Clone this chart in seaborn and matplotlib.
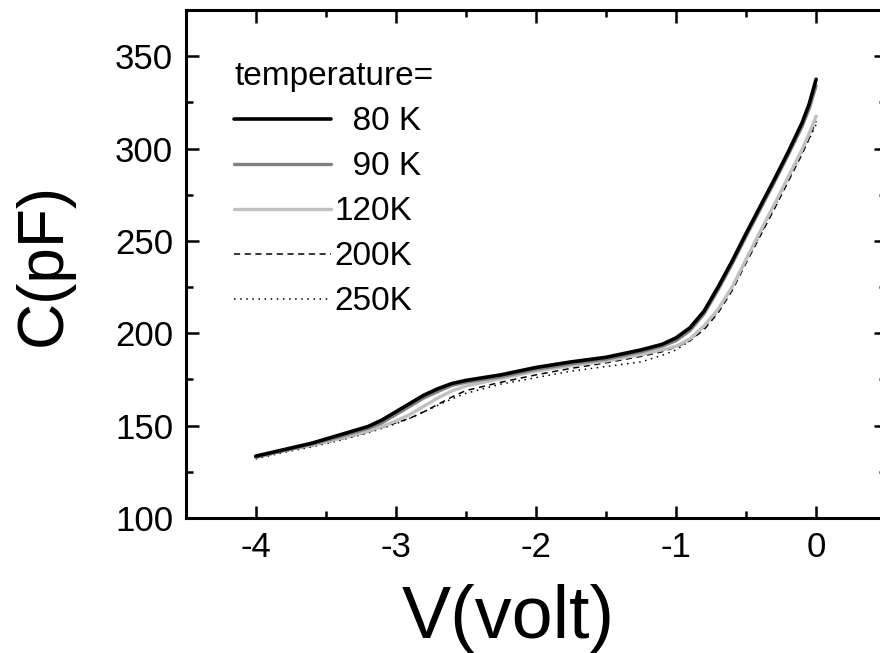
import numpy as np
import pandas as pd
import matplotlib
matplotlib.use("Agg")
import matplotlib.pyplot as plt
import seaborn as sns
from matplotlib.ticker import MultipleLocator

voltage = [-4.0, -3.8, -3.6, -3.4, -3.2, -3.1, -3.0, -2.9, -2.8, -2.7, -2.6, -2.5,
           -2.25, -2.0, -1.75, -1.5, -1.25, -1.1, -1.0, -0.9, -0.8, -0.7, -0.6,
           -0.5, -0.4, -0.3, -0.2, -0.1, -0.05, 0.0]

c_80K = [133.5, 137.0, 140.5, 145.0, 149.5, 153.0, 157.5, 162.0, 166.5, 170.0, 172.8, 174.5,
         177.5, 181.5, 184.5, 187.0, 191.0, 194.0, 197.5, 203.0, 212.0, 225.0, 239.0,
         254.0, 268.5, 283.0, 298.0, 314.0, 324.0, 337.5]
c_90K = [133.0, 136.5, 140.0, 144.0, 148.5, 151.5, 156.0, 160.5, 165.0, 168.5, 171.8, 173.5,
         176.5, 180.5, 183.5, 186.0, 190.0, 193.0, 196.0, 201.5, 210.5, 223.5, 237.5,
         252.5, 267.0, 281.5, 296.5, 312.0, 321.5, 334.0]
c_120K = [133.0, 136.5, 139.5, 143.0, 147.0, 149.5, 152.5, 156.0, 160.5, 165.0, 168.8, 171.5,
          175.5, 179.5, 182.5, 185.0, 188.5, 191.0, 193.0, 197.0, 204.0, 213.0, 225.0,
          240.0, 255.0, 269.5, 284.5, 299.5, 308.0, 317.5]
c_200K = [132.5, 136.0, 139.0, 142.5, 146.5, 149.0, 151.5, 154.0, 157.5, 161.5, 165.5, 169.0,
          173.5, 177.5, 181.0, 184.0, 187.5, 190.0, 192.5, 196.0, 202.0, 211.0, 223.0,
          238.0, 252.5, 267.0, 282.0, 297.0, 305.5, 315.0]
c_250K = [132.0, 135.5, 138.5, 142.0, 146.0, 148.5, 151.0, 154.0, 157.5, 161.0, 164.5, 167.5,
          172.5, 176.0, 179.5, 182.0, 184.5, 188.0, 191.0, 196.0, 203.0, 212.0, 224.0,
          239.0, 253.0, 268.0, 283.0, 298.0, 305.0, 313.0]

series_labels = ["  80 K", "  90 K", "120K", "200K", "250K"]
series_values = [c_80K, c_90K, c_120K, c_200K, c_250K]

frames = []
for lab, vals in zip(series_labels, series_values):
    frames.append(pd.DataFrame({"V": voltage, "C": vals, "T": lab}))
df = pd.concat(frames, ignore_index=True)

sns.set_style("white")
plt.rcParams["font.family"] = ["Liberation Sans", "DejaVu Sans"]
plt.rcParams["axes.unicode_minus"] = False
plt.rcParams["text.color"] = "black"
plt.rcParams["axes.labelcolor"] = "black"
plt.rcParams["xtick.color"] = "black"
plt.rcParams["ytick.color"] = "black"

fig = plt.figure(figsize=(8.8, 6.53), dpi=100)
ax = fig.add_axes([0.211, 0.2067, 0.796, 0.778])

palette = {"  80 K": "#000000", "  90 K": "#808080", "120K": "#c0c0c0",
           "200K": "#000000", "250K": "#000000"}
widths = {"  80 K": 2.6, "  90 K": 2.4, "120K": 2.4, "200K": 1.1, "250K": 1.1}
styles = {"  80 K": "-", "  90 K": "-", "120K": "-", "200K": (0, (4, 3)), "250K": (0, (1, 3))}
order = ["250K", "200K", "120K", "  90 K", "  80 K"]
for lab in order:
    sub = df[df["T"] == lab]
    sns.lineplot(data=sub, x="V", y="C", ax=ax, color=palette[lab],
                 linewidth=widths[lab], linestyle=styles[lab], label=lab,
                 estimator=None, sort=False)

ax.set_xlim(-4.5, 0.5)
ax.set_ylim(100, 375)
ax.xaxis.set_major_locator(MultipleLocator(1))
ax.xaxis.set_minor_locator(MultipleLocator(0.5))
ax.yaxis.set_major_locator(MultipleLocator(50))
ax.yaxis.set_minor_locator(MultipleLocator(25))
ax.set_yticks([100, 150, 200, 250, 300, 350])

ax.tick_params(which="both", direction="in", top=True, right=True,
               bottom=True, left=True, labelsize=25, colors="black")
ax.tick_params(which="major", length=9, width=1.8, pad=9)
ax.tick_params(which="minor", length=5, width=1.8)
for s in ax.spines.values():
    s.set_linewidth(2.2)
    s.set_color("black")

ax.set_xlabel("V(volt)", fontsize=53, color="black")
ax.xaxis.set_label_coords(0.46, -0.197, transform=ax.transAxes)
ax.xaxis.label.set_va("center")
ax.set_ylabel("C(pF)", fontsize=46, labelpad=30, color="black")

handles, labels = ax.get_legend_handles_labels()
hmap = dict(zip(labels, handles))
leg_order = ["  80 K", "  90 K", "120K", "200K", "250K"]
leg = ax.legend([hmap[l] for l in leg_order], leg_order, title="temperature=",
                loc="upper left", bbox_to_anchor=(0.05, 0.925), frameon=False,
                fontsize=24, title_fontsize=24, handlelength=2.9,
                handletextpad=0.1, labelspacing=0.42, alignment="left",
                borderaxespad=0, labelcolor="black")
leg.get_title().set_color("black")

fig.savefig("out.png", dpi=100)
